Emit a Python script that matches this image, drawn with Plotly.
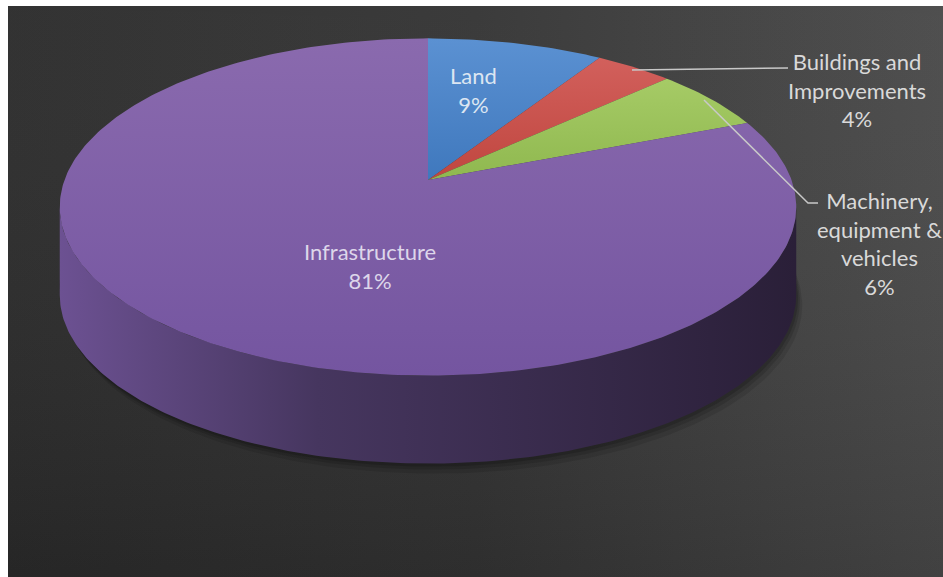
import numpy as np
import plotly.graph_objects as go

# ---- data ----
categories = ["Land", "Buildings and<br>Improvements", "Machinery,<br>equipment &<br>vehicles", "Infrastructure"]
values = [9, 4, 6, 81]
top_colors = [("#3f78bd", "#5b91d2"), ("#c0463f", "#d2605c"), ("#8fb84f", "#a6cb66"), ("#7455a0", "#8a6aae")]
label_pos = [(473, 90), (857, 90), (879, 243), (370, 266)]
label_colors = ["#dce6f2", "#d9d9d9", "#d9d9d9", "#ddd6ea"]

W, H = 943, 577
# projection of the pie (pixel space)
CX, CY = 428, 180
A, B, P = 363.5, 164.3, 0.16
DEPTH = 88


def proj(theta, dy=0.0):
    X = np.sin(theta)
    Z = np.cos(theta)
    w = 1 + P * Z
    return CX + A * X / w, CY - B * Z / w + dy


fig = go.Figure()

# background panel with gradient
bx = [8, W, W, 8, 8]
by = [6, 6, H, H, 6]
fig.add_trace(go.Scatter(x=bx, y=by, mode="lines", fill="toself", line=dict(width=0),
                         fillgradient=dict(type="horizontal",
                                           colorscale=[[0, "#2a2a2a"], [0.5, "#333333"], [1, "#484848"]]),
                         hoverinfo="skip", showlegend=False))
fig.add_trace(go.Scatter(x=bx, y=by, mode="lines", fill="toself", line=dict(width=0),
                         fillgradient=dict(type="vertical",
                                           colorscale=[[0, "rgba(0,0,0,0.10)"], [1, "rgba(255,255,255,0.04)"]]),
                         hoverinfo="skip", showlegend=False))

# soft shadow below the pie
for k, a in [(10, 0.10), (6, 0.12), (3, 0.15)]:
    th = np.linspace(np.arccos(-P) - 0.1, 2 * np.pi - np.arccos(-P) + 0.1, 120)
    sx, sy = proj(th, DEPTH + k)
    sx2, sy2 = proj(th[::-1], 0)
    fig.add_trace(go.Scatter(x=np.r_[sx + k * 0.6, sx2], y=np.r_[sy, sy2 + DEPTH - 10], mode="lines",
                             fill="toself", fillcolor=f"rgba(0,0,0,{a})", line=dict(width=0),
                             hoverinfo="skip", showlegend=False))

# side wall (front half; fully Infrastructure)
tR = np.arccos(-P)
tL = 2 * np.pi - tR
th = np.linspace(tR, tL, 200)
tx, ty = proj(th)
bx2, by2 = proj(th[::-1], DEPTH)
fig.add_trace(go.Scatter(x=np.r_[tx, bx2, tx[0]], y=np.r_[ty, by2, ty[0]], mode="lines", fill="toself",
                         line=dict(width=0),
                         fillgradient=dict(type="horizontal",
                                           colorscale=[[0, "#6c5192"], [0.35, "#46365f"], [1, "#2a1f38"]]),
                         hoverinfo="skip", showlegend=False))

# top face slices
total = sum(values)
start = 0.0
for cat, v, (c0, c1) in zip(categories, values, top_colors):
    a0 = 2 * np.pi * start / total
    a1 = 2 * np.pi * (start + v) / total
    n = max(8, int(400 * v / total))
    t = np.linspace(a0, a1, n)
    ax_, ay_ = proj(t)
    xs = np.r_[CX, ax_, CX]
    ys = np.r_[CY, ay_, CY]
    fig.add_trace(go.Scatter(x=xs, y=ys, mode="lines", fill="toself", line=dict(width=0),
                             fillgradient=dict(type="vertical", colorscale=[[0, c0], [1, c1]]),
                             hoverinfo="skip", showlegend=False))
    start += v

# leader lines
fig.add_trace(go.Scatter(x=[632, 788], y=[70, 68], mode="lines", line=dict(color="#c8c8c8", width=1.5),
                         hoverinfo="skip", showlegend=False))
fig.add_trace(go.Scatter(x=[704, 808, 818], y=[100, 203, 203], mode="lines", line=dict(color="#c8c8c8", width=1.5),
                         hoverinfo="skip", showlegend=False))

# labels
for cat, v, (lx, ly), lc in zip(categories, values, label_pos, label_colors):
    fig.add_annotation(x=lx, y=ly, xref="x", yref="y", text=f"{cat}<br>{round(100 * v / total)}%",
                       showarrow=False, align="center", font=dict(family="Lato", size=22, color=lc))

fig.update_layout(width=W, height=H, margin=dict(l=0, r=0, t=0, b=0),
                  paper_bgcolor="white", plot_bgcolor="white", showlegend=False,
                  xaxis=dict(range=[0, W], visible=False, fixedrange=True),
                  yaxis=dict(range=[H, 0], visible=False, fixedrange=True))
fig.write_html("out.html")
